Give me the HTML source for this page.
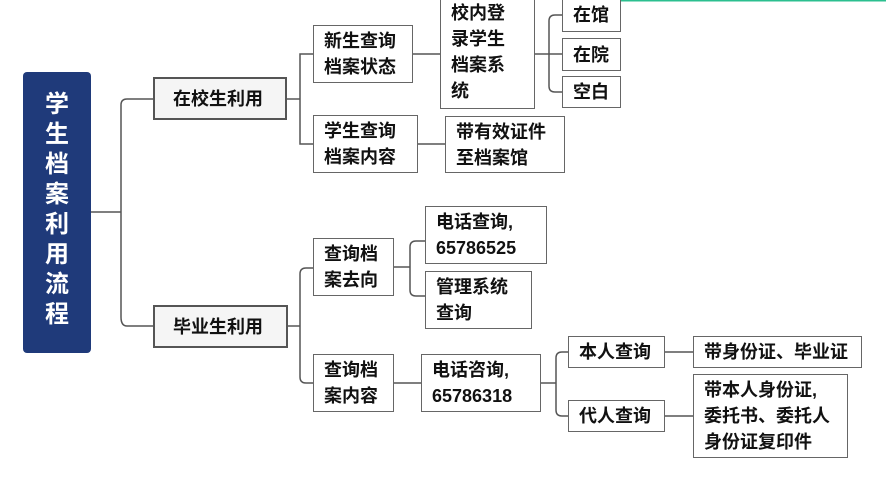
<!DOCTYPE html>
<html><head><meta charset="utf-8"><style>
body{margin:0;width:886px;height:479px;background:#fff;position:relative;overflow:hidden;font-family:"Liberation Sans","Noto Sans CJK SC",sans-serif;}
.b{position:absolute;box-sizing:border-box;border:1.5px solid #666;background:#fff;font-size:18px;font-weight:bold;color:#111;line-height:26px;padding:2px 0 0 10px;white-space:nowrap;}
svg{position:absolute;left:0;top:0}
</style></head><body>
<svg width="886" height="479">
<g fill="none" stroke="#555" stroke-width="1.5">
<path d="M91 212H121"/>
<path d="M153 99H127Q121 99 121 105V317Q121 326 127 326H153"/>
<path d="M287 99H300"/><path d="M314 54H300V144H314"/>
<path d="M413 54H440"/>
<path d="M534 54H549"/><path d="M562 15H555Q549 15 549 21V86Q549 92 555 92H562"/><path d="M549 54H562"/>
<path d="M418 144H445"/>
<path d="M288 326H300"/><path d="M313 268H306Q300 268 300 274V377Q300 383 306 383H313"/>
<path d="M394 267H410"/><path d="M425 241H416Q410 241 410 247V290Q410 296 416 296H425"/>
<path d="M394 383H421"/>
<path d="M541 383H556"/><path d="M568 352H562Q556 352 556 358V410Q556 416 562 416H568"/>
<path d="M665 352H693"/><path d="M665 416H693"/>
</g>
<line x1="605" y1="0.5" x2="886" y2="0.5" stroke="#2bbf8f" stroke-width="2"/>
</svg>
<div style="position:absolute;left:23px;top:72px;width:68px;height:281px;background:#1f3a7a;border-radius:4px;color:#fff;font-size:24px;font-weight:bold;text-align:center;line-height:30px;padding-top:18px;box-sizing:border-box;">学<br>生<br>档<br>案<br>利<br>用<br>流<br>程</div>
<div class="b" style="left:153px;top:77px;width:134px;height:43px;background:#f5f5f5;border:2px solid #555;padding:7px 0 0 18px;">在校生利用</div>
<div class="b" style="left:153px;top:305px;width:135px;height:43px;background:#f5f5f5;border:2px solid #555;padding:7px 0 0 18px;">毕业生利用</div>
<div class="b" style="left:313px;top:25px;width:100px;height:58px;">新生查询<br>档案状态</div>
<div class="b" style="left:313px;top:115px;width:105px;height:58px;">学生查询<br>档案内容</div>
<div class="b" style="left:440px;top:-3px;width:95px;height:112px;">校内登<br>录学生<br>档案系<br>统</div>
<div class="b" style="left:562px;top:-3px;width:59px;height:35px;padding-top:4px;">在馆</div>
<div class="b" style="left:562px;top:38px;width:59px;height:33px;padding-top:3px;">在院</div>
<div class="b" style="left:562px;top:76px;width:59px;height:32px;padding-top:2px;">空白</div>
<div class="b" style="left:445px;top:116px;width:120px;height:57px;">带有效证件<br>至档案馆</div>
<div class="b" style="left:313px;top:238px;width:81px;height:58px;">查询档<br>案去向</div>
<div class="b" style="left:313px;top:354px;width:81px;height:58px;">查询档<br>案内容</div>
<div class="b" style="left:425px;top:206px;width:122px;height:58px;">电话查询,<br>65786525</div>
<div class="b" style="left:425px;top:271px;width:107px;height:58px;">管理系统<br>查询</div>
<div class="b" style="left:421px;top:354px;width:120px;height:58px;">电话咨询,<br>65786318</div>
<div class="b" style="left:568px;top:336px;width:97px;height:32px;padding-top:2px;">本人查询</div>
<div class="b" style="left:568px;top:400px;width:97px;height:32px;padding-top:2px;">代人查询</div>
<div class="b" style="left:693px;top:336px;width:169px;height:32px;padding-top:2px;">带身份证、毕业证</div>
<div class="b" style="left:693px;top:374px;width:155px;height:84px;">带本人身份证,<br>委托书、委托人<br>身份证复印件</div>
</body></html>
